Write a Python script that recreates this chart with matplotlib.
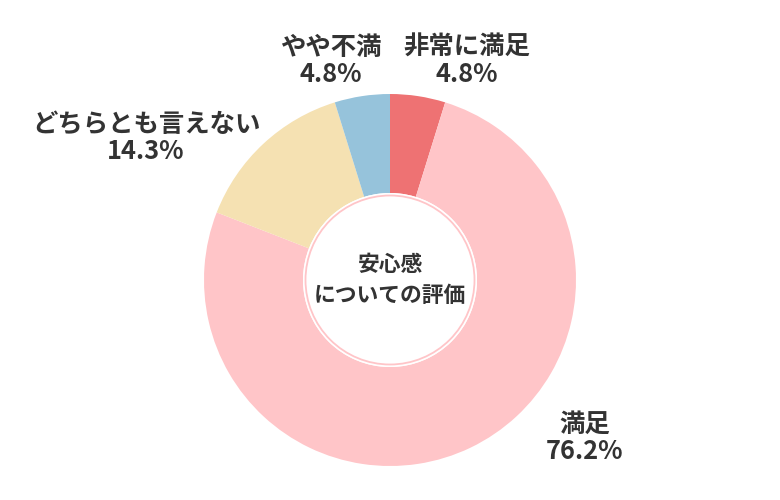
import matplotlib
matplotlib.use("Agg")
import matplotlib.pyplot as plt
from matplotlib.patches import Circle

plt.rcParams['font.family'] = ['Noto Sans CJK JP', 'DejaVu Sans']

# data
labels = ['非常に満足', '満足', 'どちらとも言えない', 'やや不満']
shares = [4.8, 76.2, 14.3, 4.8]
colors = ['#EE7273', '#FFC5C8', '#F5E1B2', '#96C3DB']
center_title = '安心感\nについての評価'

# label anchor points, in pixels from the top-left corner
label_pos = [(467, 61), (585, 438), (146, 138), (331, 61)]

W, H = 780, 500
cx, cy = 390, 280
r_out, r_in = 186, 87

fig = plt.figure(figsize=(W / 100, H / 100), dpi=100)
ax = fig.add_axes([0, 0, 1, 1])

ax.pie(shares, colors=colors, startangle=90, counterclock=False,
       radius=r_out, center=(cx, H - cy),
       wedgeprops=dict(width=r_out - r_in, linewidth=0))

# inner ring
ax.add_patch(Circle((cx, H - cy), r_in, facecolor='white', edgecolor='none'))
ax.add_patch(Circle((cx, H - cy), 84.5, facecolor='none',
                    edgecolor='#FFC5C8', linewidth=1.3))

ax.text(cx, H - cy, center_title, ha='center', va='center',
        fontsize=15.7, fontweight='bold', color='#333333', linespacing=1.45)

for lab, val, (x, y) in zip(labels, shares, label_pos):
    ax.text(x, H - y, f'{lab}\n{val:.1f}%', ha='center', va='center',
            fontsize=18.3, fontweight='bold', color='#333333', linespacing=1.03)

ax.set_xlim(0, W)
ax.set_ylim(0, H)
ax.set_aspect('equal')
ax.axis('off')

fig.savefig('out.png', dpi=100)
